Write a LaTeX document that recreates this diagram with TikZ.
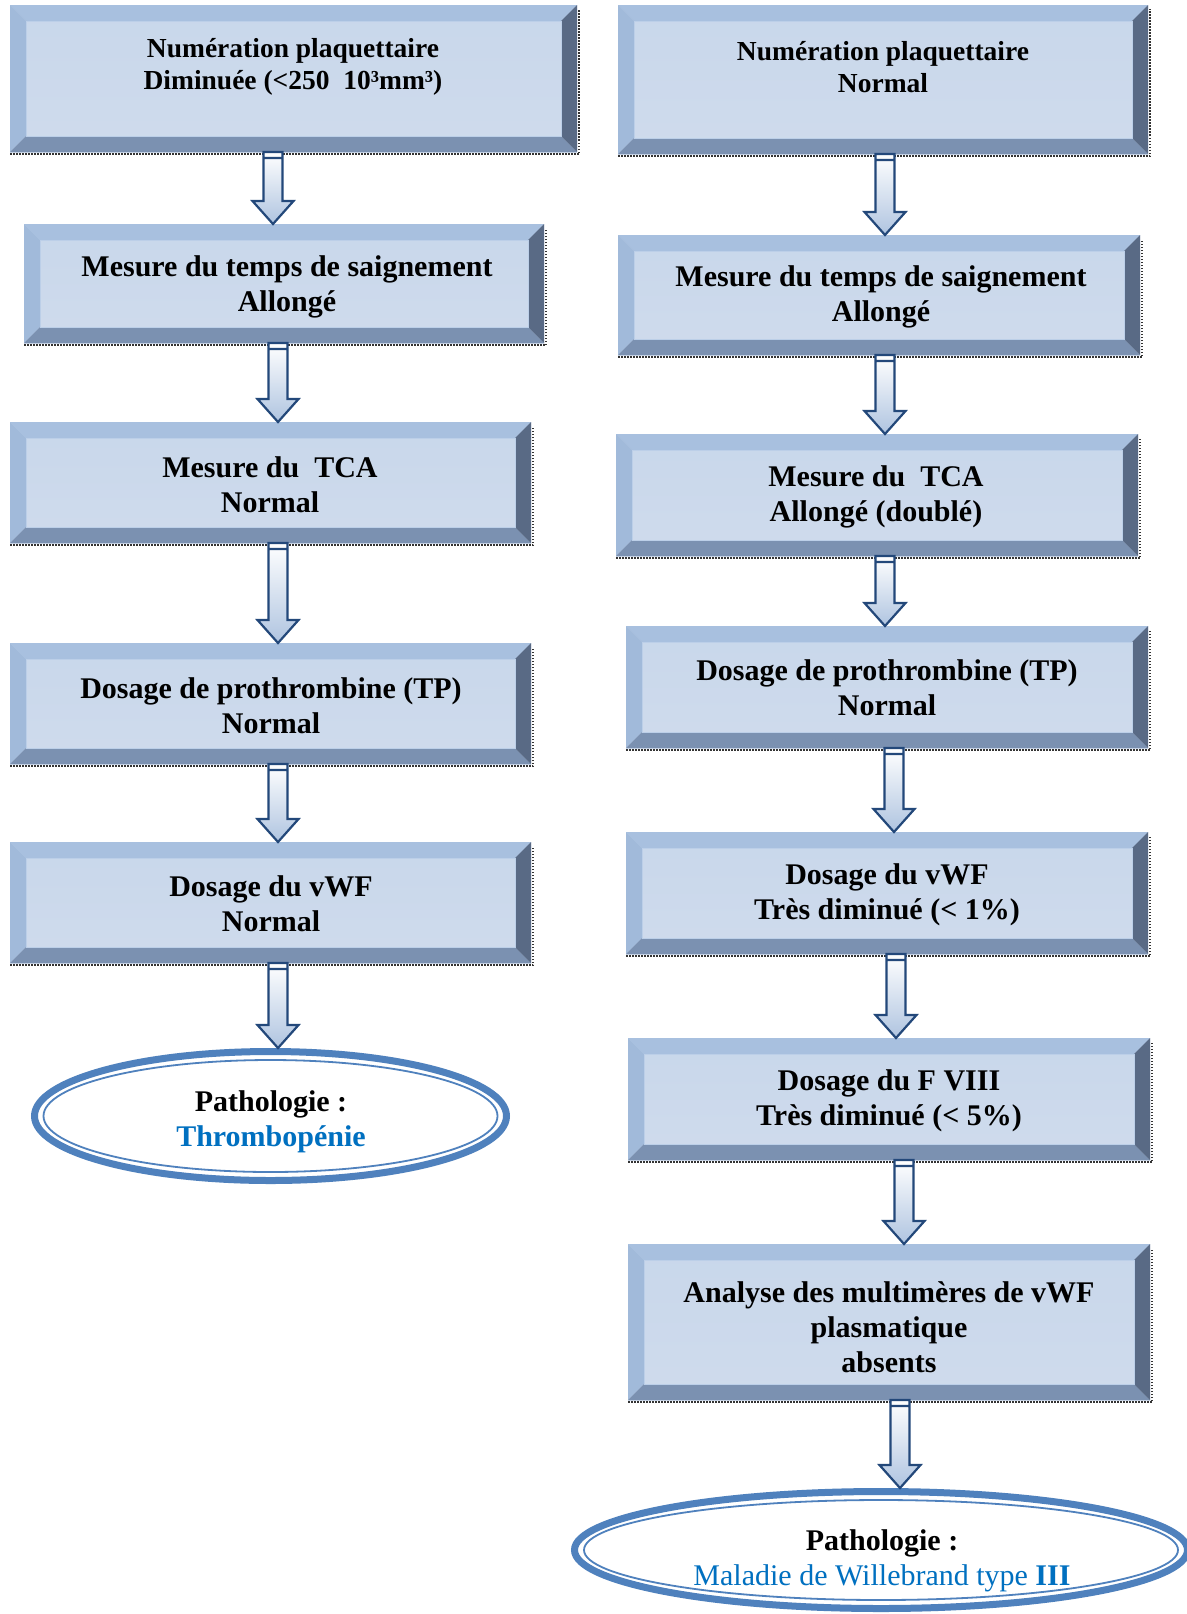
\documentclass[tikz,border=0pt]{standalone}
\usepackage{fontspec}
\setmainfont{Liberation Serif}
\usetikzlibrary{calc,shapes.geometric}
\definecolor{bevT}{HTML}{A8C0DF}
\definecolor{bevL}{HTML}{A1BADA}
\definecolor{bevB}{HTML}{7B91B1}
\definecolor{bevR}{HTML}{596A85}
\definecolor{faceTop}{HTML}{C8D7EB}
\definecolor{faceMid}{HTML}{DCE5F1}
\definecolor{faceBot}{HTML}{CFDBEC}
\definecolor{faceEdge}{HTML}{BCCFE8}
\definecolor{arrline}{HTML}{23487A}
\definecolor{arrfill}{HTML}{AFC4E0}
\definecolor{ellblue}{HTML}{4F81BD}
\definecolor{txtblue}{HTML}{0070C0}
\def\bv{16pt}
\tikzset{
  bevbox/.style={rectangle, inner sep=0pt, outer sep=0pt,
    path picture={
      \shade[top color=faceTop, middle color=faceMid, bottom color=faceBot]
        (path picture bounding box.north west) rectangle (path picture bounding box.south east);
      \fill[bevT] (path picture bounding box.north west) -- (path picture bounding box.north east)
        -- ([xshift=-\bv,yshift=-\bv]path picture bounding box.north east)
        -- ([xshift=\bv,yshift=-\bv]path picture bounding box.north west) -- cycle;
      \fill[bevL] (path picture bounding box.north west) -- (path picture bounding box.south west)
        -- ([xshift=\bv,yshift=\bv]path picture bounding box.south west)
        -- ([xshift=\bv,yshift=-\bv]path picture bounding box.north west) -- cycle;
      \fill[bevB] (path picture bounding box.south west) -- (path picture bounding box.south east)
        -- ([xshift=-\bv,yshift=\bv]path picture bounding box.south east)
        -- ([xshift=\bv,yshift=\bv]path picture bounding box.south west) -- cycle;
      \fill[bevR] (path picture bounding box.north east) -- (path picture bounding box.south east)
        -- ([xshift=-\bv,yshift=\bv]path picture bounding box.south east)
        -- ([xshift=-\bv,yshift=-\bv]path picture bounding box.north east) -- cycle;
      \draw[faceEdge, line width=1pt] ([xshift=\bv,yshift=-\bv]path picture bounding box.north west)
        rectangle ([xshift=-\bv,yshift=\bv]path picture bounding box.south east);
    }},
  shadowdots/.style={draw=black!80, line width=2pt, dash pattern=on 1.5pt off 1.5pt},
  lbl/.style={align=center, inner sep=0pt, font=\bfseries\fontsize{30}{35}\selectfont},
  lbls/.style={align=center, inner sep=0pt, font=\bfseries\fontsize{27.5}{32}\selectfont},
  barrowst/.style={draw=arrline, line width=2.2pt, line join=miter, top color=white, bottom color=arrfill},
  ellst/.style={ellipse, draw=ellblue, line width=7pt, fill=white, inner sep=0pt},
}
% name, x1, y1, x2, y2 (pixel coordinates, y downwards)
\newcommand\bbox[5]{%
  \node[bevbox, minimum width={(#4-#2)*1pt}, minimum height={(#5-#3)*1pt}] (#1) at ({(#2+#4)/2},{-(#3+#5)/2}) {};
  \draw[shadowdots] ([xshift=0pt,yshift=-2pt]#1.south west) -- ([xshift=2pt,yshift=-2pt]#1.south east)
    -- ([xshift=2pt,yshift=-4pt]#1.north east);
}
% x, from, to
\newcommand\barrow[3]{%
  \path[barrowst] let \p1=(#1,0 |- #2.south), \p2=(#1,0 |- #3.north) in
    (\x1-9.5pt,\y1) -- (\x1-9.5pt,\y2+23pt) -- (\x1-20.5pt,\y2+23pt) -- (\x1,\y2)
    -- (\x1+20.5pt,\y2+23pt) -- (\x1+9.5pt,\y2+23pt) -- (\x1+9.5pt,\y1) -- cycle
    (\x1-9.5pt,\y1-6pt) -- (\x1+9.5pt,\y1-6pt);
}
\begin{document}
\begin{tikzpicture}[x=1pt,y=1pt]
\useasboundingbox (0,0) rectangle (1186,-1614);
\fill[white] (0,0) rectangle (1186,-1614);

% left column boxes
\bbox{L1}{10}{5}{577}{152}
\bbox{L2}{24}{224}{544}{343}
\bbox{L3}{10}{422}{531}{543}
\bbox{L4}{10}{643}{531}{764}
\bbox{L5}{10}{842}{531}{963}
% right column boxes
\bbox{R1}{618}{5}{1148}{154}
\bbox{R2}{618}{235}{1140}{355}
\bbox{R3}{616}{434}{1138}{556}
\bbox{R4}{626}{626}{1148}{748}
\bbox{R5}{626}{832}{1148}{954}
\bbox{R6}{628}{1038}{1150}{1160}
\bbox{R7}{628}{1244}{1150}{1400}

% ellipses
\node[ellst, minimum width=472pt, minimum height=129pt] (LE) at (270.5,-1116) {};
\draw[ellblue, line width=1.8pt] (LE.center) ellipse [x radius=227, y radius=56];
\node[ellst, minimum width=613pt, minimum height=117pt] (RE) at (881,-1550) {};
\draw[ellblue, line width=1.8pt] (RE.center) ellipse [x radius=297, y radius=50];

% texts
\node[lbls] (L1t) at (293,-67) {Numération plaquettaire\\Diminuée (<250~~10³mm³)};
\node[lbls] (R1t) at (883,-67) {Numération plaquettaire\\Normal};
\node[lbl] (L2t) at (287,-287) {Mesure du temps de saignement\\Allongé};
\node[lbl] (R2t) at (881,-297) {Mesure du temps de saignement\\Allongé};
\node[lbl] (L3t) at (270,-485) {Mesure du~~TCA\\Normal};
\node[lbl] (R3t) at (876,-497) {Mesure du~~TCA\\Allongé (doublé)};
\node[lbl] (L4t) at (271,-706) {Dosage de prothrombine (TP)\\Normal};
\node[lbl] (R4t) at (887,-688) {Dosage de prothrombine (TP)\\Normal};
\node[lbl] (L5t) at (271,-904) {Dosage du vWF\\Normal};
\node[lbl] (R5t) at (887,-895) {Dosage du vWF\\Très diminué (< 1\%)};
\node[lbl] (R6t) at (889,-1101) {Dosage du F VIII\\Très diminué (< 5\%)};
\node[lbl] (R7t) at (889,-1327) {Analyse des multimères de vWF\\plasmatique\\absents};
\node[lbl] (LEt) at (271,-1122) {Pathologie :\\\textcolor{txtblue}{Thrombopénie}};
\node[lbl] (REt) at (882,-1561) {Pathologie :\\\textcolor{txtblue}{\mdseries Maladie de Willebrand type \bfseries III}};

% arrows
\barrow{273}{L1}{L2}
\barrow{278}{L2}{L3}
\barrow{278}{L3}{L4}
\barrow{278}{L4}{L5}
\barrow{278}{L5}{LE}
\barrow{885}{R1}{R2}
\barrow{885}{R2}{R3}
\barrow{885}{R3}{R4}
\barrow{894}{R4}{R5}
\barrow{896}{R5}{R6}
\barrow{904}{R6}{R7}
\barrow{900}{R7}{RE}
\end{tikzpicture}
\end{document}
